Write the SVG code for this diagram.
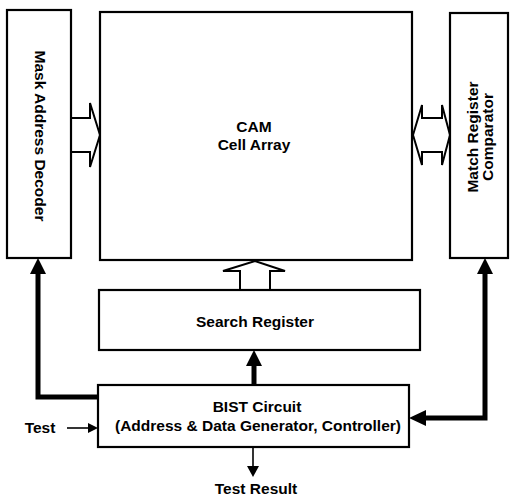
<svg xmlns="http://www.w3.org/2000/svg" width="510" height="499" viewBox="0 0 510 499">
<style>
.box{fill:#fff;stroke:#000;stroke-width:2.2}
.t{font-family:"Liberation Sans",Arial,sans-serif;font-weight:bold;font-size:15.5px;fill:#000;text-anchor:middle}
.thick{fill:none;stroke:#000;stroke-width:5}
.thin{fill:none;stroke:#000;stroke-width:1.6}
.hollow{fill:#fff;stroke:#000;stroke-width:2;stroke-linejoin:miter}
.head{fill:#000}
</style>
<rect width="510" height="499" fill="#fff"/>
<g id="connectors">
  <polyline class="hollow" points="71,118 90,118 90,103 100,135 90,167 90,152 71,152"/>
  <polygon class="hollow" points="413,135 422,105 422,118 442,118 442,105 450,135 442,165 442,152 422,152 422,165"/>
  <polygon class="hollow" points="240,290 240,271 223,271 255,261 285,271 270,271 270,290"/>
  <polyline class="thick" points="98,397 38,397 38,272"/>
  <polygon class="head" points="38,258 30,274 46,274"/>
  <line class="thick" x1="254" y1="385" x2="254" y2="364"/>
  <polygon class="head" points="254,350 246,366 262,366"/>
  <polyline class="thick" points="485,272 485,418 424,418"/>
  <polygon class="head" points="485,258 477,274 493,274"/>
  <polygon class="head" points="409,418 426,410 426,426"/>
  <line class="thin" x1="67" y1="428" x2="90" y2="428"/>
  <polygon class="head" points="98,428 88,423 88,433"/>
  <line class="thin" x1="253" y1="447" x2="253" y2="468"/>
  <polygon class="head" points="253,477 247,466 259,466"/>
</g>
<g id="mask-address-decoder">
  <rect class="box" x="7" y="10" width="64" height="248"/>
  <text class="t" transform="translate(40,136) rotate(90)" dominant-baseline="central">Mask Address Decoder</text>
</g>
<g id="cam-cell-array">
  <rect class="box" x="100" y="12" width="312" height="248"/>
  <text class="t" x="254" y="132">CAM</text>
  <text class="t" x="254" y="150">Cell Array</text>
</g>
<g id="match-register-comparator">
  <rect class="box" x="450" y="13" width="58" height="245"/>
  <text class="t" transform="translate(479,137) rotate(-90)" dominant-baseline="central"><tspan x="0" y="-7">Match Register</tspan><tspan x="0" y="8">Comparator</tspan></text>
</g>
<g id="search-register">
  <rect class="box" x="99" y="290" width="321" height="60"/>
  <text class="t" x="255" y="327">Search Register</text>
</g>
<g id="bist-circuit">
  <rect class="box" x="98" y="385" width="311" height="62"/>
  <text class="t" x="257" y="412">BIST Circuit</text>
  <text class="t" x="258" y="431">(Address &amp; Data Generator, Controller)</text>
</g>
<g id="labels">
  <text class="t" x="40" y="433">Test</text>
  <text class="t" x="256" y="494">Test Result</text>
</g>
</svg>
